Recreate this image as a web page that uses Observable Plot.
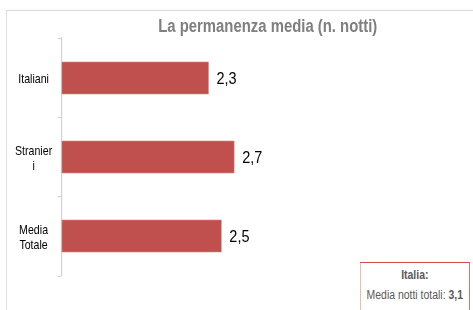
<!DOCTYPE html>
<html><head><meta charset="utf-8">
<script src="https://cdn.jsdelivr.net/npm/d3@7"></script>
<script src="https://cdn.jsdelivr.net/npm/@observablehq/plot@0.6"></script>
<style>
html,body{margin:0;padding:0;background:#fff;overflow:hidden;width:473px;height:310px}
#wrap{position:absolute;left:0;top:0;width:557px;height:310px;transform:scaleX(0.85);transform-origin:0 0;font-family:"Liberation Sans",Arial,sans-serif;overflow:visible}
#frame{position:absolute;left:7px;top:10px;width:600px;height:400px;border:1px solid #d9d9d9;box-sizing:border-box}
#title{position:absolute;left:0;width:630px;top:16px;line-height:20px;text-align:center;font-weight:bold;font-size:17.5px;color:#7f7f7f}
#chart{position:absolute;left:0;top:0}
#box{position:absolute;left:423px;top:262px;width:130px;height:80px;border:1.5px solid #d0504d;box-sizing:border-box;background:#fff;font-size:12.3px;color:#595959;line-height:20px;padding-top:2px;text-align:center}
</style>
</head><body>
<div id="wrap">
  <div id="frame"></div>
  <div id="title">La permanenza media (n. notti)</div>
  <div id="chart"></div>
  <div id="box"><div><b>Italia:</b></div><div>Media notti totali: <b>3,1</b></div></div>
</div>
<script>
const categories = ["Italiani", "Stranieri", "Media Totale"];
const tickLabels = ["Italiani", "Stranier\ni", "Media\nTotale"];
const values = [2.3, 2.7, 2.5];
const valueLabels = ["2,3", "2,7", "2,5"];

const data = categories.map((c, i) => ({cat: c, value: values[i], label: valueLabels[i]}));
const marginTop = 37, marginBottom = 34, H = 310;
const step = (H - marginTop - marginBottom) / categories.length;

const chart = Plot.plot({
  width: 557, height: H,
  marginLeft: 72, marginRight: 33, marginTop, marginBottom,
  style: {background: "transparent", fontFamily: "'Liberation Sans', Arial, sans-serif", color: "#000", overflow: "visible"},
  x: {domain: [0, 6], axis: null},
  y: {domain: categories, paddingInner: 0.6, paddingOuter: 0.3, axis: null},
  marks: [
    Plot.barX(data, {x: "value", y: "cat", fill: "#c0504d", stroke: "#d58a88", strokeWidth: 0.6}),
    Plot.ruleX([0], {stroke: "#c8c8c8"}),
    Plot.ruleY(categories, {y: d => d, x1: -0.055, x2: 0, dy: -step / 2, stroke: "#c8c8c8"}),
    Plot.ruleY(categories.slice(-1), {y: d => d, x1: -0.055, x2: 0, dy: step / 2, stroke: "#c8c8c8"}),
    Plot.axisY({label: null, tickSize: 0, tickPadding: 0, textAnchor: "middle", dx: -33, fontSize: 12.5, lineHeight: 1.18,
      tickFormat: d => tickLabels[categories.indexOf(d)]}),
    Plot.text(data, {x: "value", y: "cat", text: "label", textAnchor: "start", dx: 9, fontSize: 17, fill: "#000"})
  ]
});
document.getElementById("chart").appendChild(chart);
</script>
</body></html>
